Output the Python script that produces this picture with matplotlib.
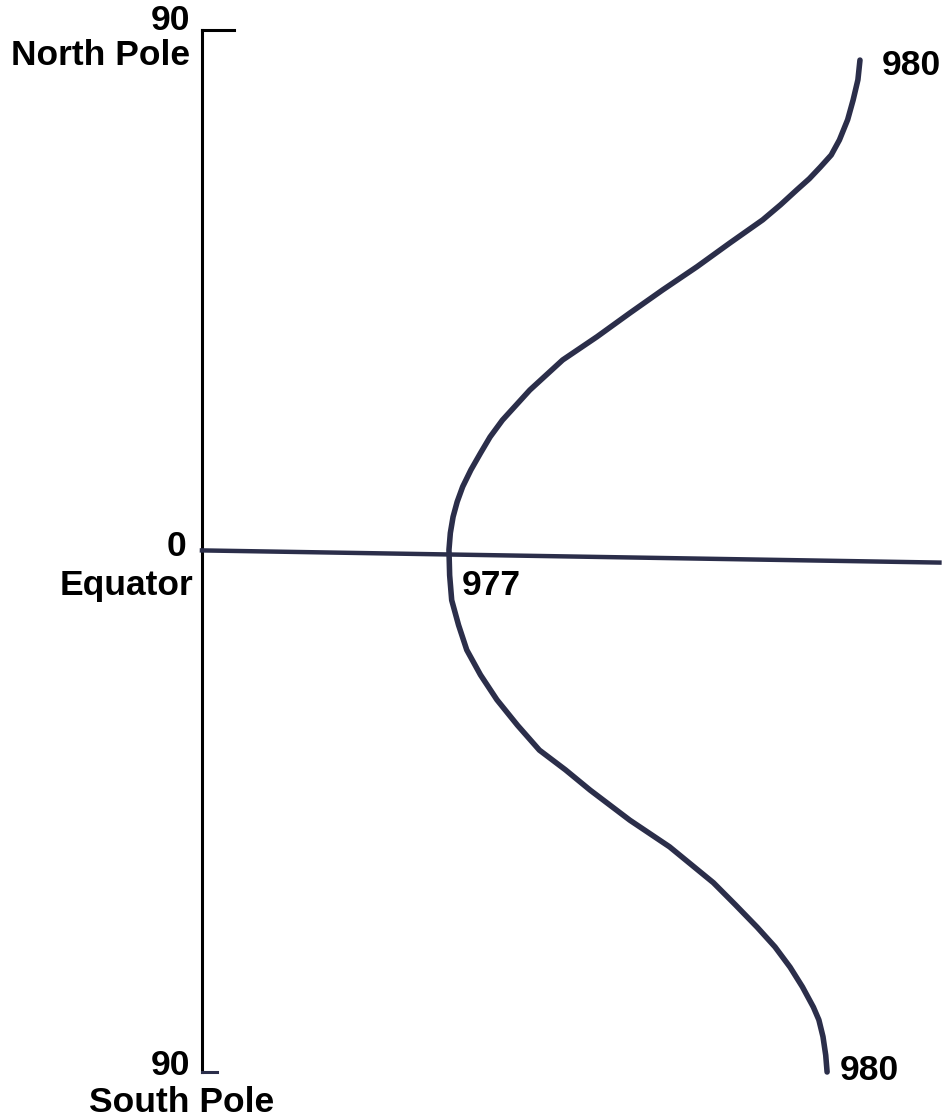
import matplotlib.pyplot as plt

# gravity (schematic) against latitude, north +, south -
latitude = [84.8, 81.4, 77.9, 74.5, 71.0, 68.4, 66.3, 64.3, 62.4, 59.8, 57.2, 53.2,
            49.1, 45.1, 41.1, 37.0, 33.0, 27.8, 22.6, 19.7, 16.9, 14.0, 11.1, 8.5,
            5.9, 3.1, 0.2, -4.2, -8.5, -12.8, -17.1, -21.4, -25.7, -30.1, -34.4,
            -37.8, -41.3, -46.5, -51.1, -57.3, -61.1, -65.0, -68.4, -71.9, -75.3,
            -78.8, -81.0, -83.9, -87.1, -90.0]
gravity = [980.0, 979.985, 979.95, 979.91, 979.85, 979.79, 979.71, 979.63, 979.54,
           979.42, 979.29, 979.05, 978.81, 978.56, 978.32, 978.08, 977.83, 977.59,
           977.39, 977.30, 977.23, 977.16, 977.10, 977.06, 977.03, 977.01, 977.0,
           977.005, 977.02, 977.07, 977.13, 977.23, 977.35, 977.50, 977.66, 977.85,
           978.03, 978.32, 978.61, 978.93, 979.09, 979.25, 979.38, 979.49, 979.58,
           979.66, 979.70, 979.73, 979.75, 979.76]

lat_ticks = [90, 0, -90]
tick_labels = ["90", "0", "90"]
place_names = ["North Pole", "Equator", "South Pole"]
value_labels = ["980", "977", "980"]

navy = "#2b2e4a"
axis_x = 975.197

fig = plt.figure(figsize=(9.43, 11.19), dpi=100)
ax = fig.add_axes([0, 0, 1, 1])
ax.set_xlim(973.723, 980.606)
ax.set_ylim(-98.12, 95.18)
ax.axis("off")

# latitude axis with end ticks
ax.plot([axis_x, axis_x], [lat_ticks[0], lat_ticks[2]], color="black", lw=2.2)
ax.plot([axis_x, 975.43], [90, 90], color="black", lw=2.2)
ax.plot([axis_x, 975.31], [-90, -90], color=navy, lw=2.2)

# equator line (slightly sloped as in the scan)
ax.plot([axis_x, 980.58], [0.1, -2.0], color=navy, lw=3.2)

# gravity curve
ax.plot(gravity, latitude, color=navy, lw=4.0, solid_capstyle="round",
        solid_joinstyle="round")

font = dict(family=["Liberation Sans", "DejaVu Sans"], fontsize=25.5, fontweight="bold")

ax.text(975.109, 90.0, tick_labels[0], ha="right", va="baseline", **font)
ax.text(975.109, 83.95, place_names[0], ha="right", va="baseline", **font)
ax.text(975.08, -0.86, tick_labels[1], ha="right", va="baseline", **font)
ax.text(975.131, -7.6, place_names[1], ha="right", va="baseline", **font)
ax.text(975.109, -90.5, tick_labels[2], ha="right", va="baseline", **font)
ax.text(975.051, -96.9, place_names[2], ha="center", va="baseline", **font)

ax.text(980.161, 82.2, value_labels[0], ha="left", va="baseline", **font)
ax.text(977.095, -7.6, value_labels[1], ha="left", va="baseline", **font)
ax.text(979.854, -91.4, value_labels[2], ha="left", va="baseline", **font)

plt.savefig("out.png", dpi=100)
